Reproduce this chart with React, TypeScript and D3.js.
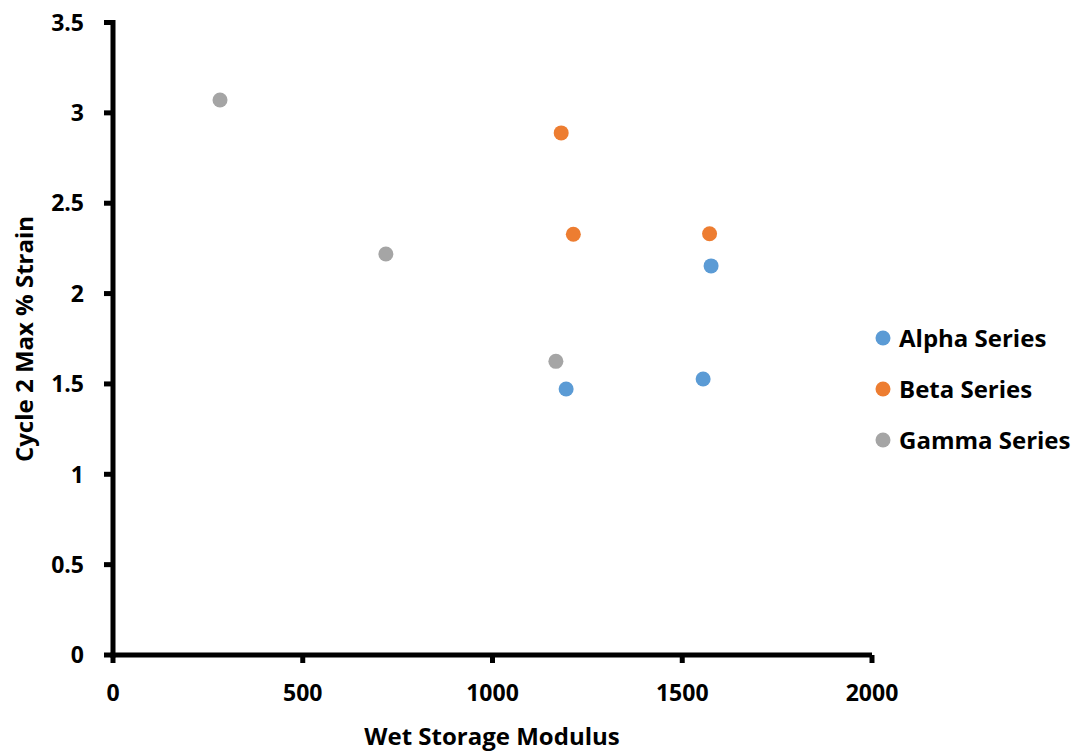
import React, { useEffect, useRef } from "react";
import * as d3 from "d3";

const alphaX = [1576, 1194, 1555];
const alphaY = [2.153, 1.472, 1.527];
const betaX = [1181, 1213, 1572];
const betaY = [2.889, 2.328, 2.331];
const gammaX = [282, 719, 1167];
const gammaY = [3.071, 2.219, 1.625];
const seriesNames = ["Alpha Series", "Beta Series", "Gamma Series"];
const seriesColors = ["#5B9BD5", "#ED7D31", "#A5A5A5"];
const xTicks = [0, 500, 1000, 1500, 2000];
const yTicks = [0, 0.5, 1, 1.5, 2, 2.5, 3, 3.5];
const xTitle = "Wet Storage Modulus";
const yTitle = "Cycle 2 Max % Strain";

const FONT = "'Open Sans', sans-serif";

export default function App() {
  const ref = useRef<SVGSVGElement>(null);
  useEffect(() => {
    const svg = d3.select(ref.current);
    svg.selectAll("*").remove();
    const W = 1076, H = 751;
    const x = d3.scaleLinear().domain([0, 2000]).range([113, 872]);
    const y = d3.scaleLinear().domain([0, 3.5]).range([655, 22.5]);

    svg.append("rect").attr("width", W).attr("height", H).attr("fill", "#fff");

    const series = [
      { xs: alphaX, ys: alphaY },
      { xs: betaX, ys: betaY },
      { xs: gammaX, ys: gammaY },
    ];

    const g = svg.append("g");
    g.append("line").attr("x1", x(0)).attr("x2", x(0)).attr("y1", y(3.5) - 2.5).attr("y2", y(0) + 2.5)
      .attr("stroke", "#000").attr("stroke-width", 5);
    g.append("line").attr("x1", x(0) - 2.5).attr("x2", x(2000)).attr("y1", y(0)).attr("y2", y(0))
      .attr("stroke", "#000").attr("stroke-width", 5);
    yTicks.forEach((t) => {
      g.append("line").attr("x1", x(0) - 9).attr("x2", x(0)).attr("y1", y(t)).attr("y2", y(t))
        .attr("stroke", "#000").attr("stroke-width", 5);
      g.append("text").attr("x", 84).attr("y", y(t)).attr("dy", "0.36em")
        .attr("text-anchor", "end").attr("font-family", FONT).attr("font-weight", "bold")
        .attr("font-size", 23).text(String(t));
    });
    xTicks.forEach((t) => {
      g.append("line").attr("x1", x(t)).attr("x2", x(t)).attr("y1", y(0)).attr("y2", y(0) + 8)
        .attr("stroke", "#000").attr("stroke-width", 5);
      g.append("text").attr("x", x(t)).attr("y", 701)
        .attr("text-anchor", "middle").attr("font-family", FONT).attr("font-weight", "bold")
        .attr("font-size", 23).text(String(t));
    });

    g.append("text").attr("x", 492).attr("y", 745).attr("text-anchor", "middle")
      .attr("font-family", FONT).attr("font-weight", "bold").attr("font-size", 24).text(xTitle);
    g.append("text").attr("transform", `translate(33,339) rotate(-90)`).attr("text-anchor", "middle")
      .attr("font-family", FONT).attr("font-weight", "bold").attr("font-size", 24).text(yTitle);

    series.forEach((s, i) => {
      s.xs.forEach((xv, j) => {
        svg.append("circle").attr("cx", x(xv)).attr("cy", y(s.ys[j])).attr("r", 7.5)
          .attr("fill", seriesColors[i]);
      });
    });

    seriesNames.forEach((n, i) => {
      const cy = 338 + i * 51;
      svg.append("circle").attr("cx", 883).attr("cy", cy).attr("r", 7.5).attr("fill", seriesColors[i]);
      svg.append("text").attr("x", 899).attr("y", cy).attr("dy", "0.36em")
        .attr("font-family", FONT).attr("font-weight", "bold").attr("font-size", 24).text(n);
    });
  }, []);
  return <svg ref={ref} width={1076} height={751} style={{ display: "block", position: "absolute", left: 0, top: 0 }} />;
}
